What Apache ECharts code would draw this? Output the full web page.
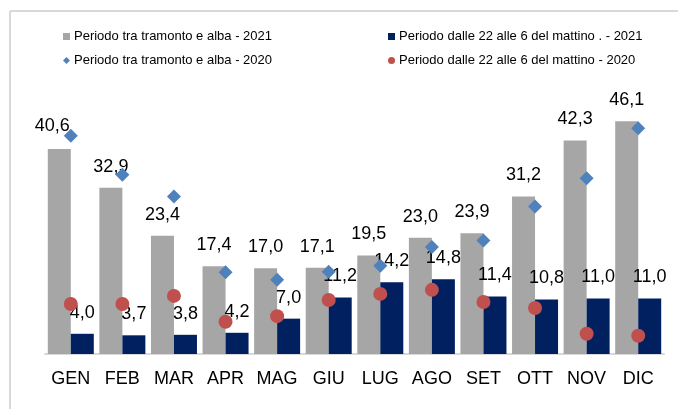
<!DOCTYPE html>
<html>
<head>
<meta charset="utf-8">
<script src="https://cdn.jsdelivr.net/npm/echarts@6/dist/echarts.min.js"></script>
<style>
  html, body { margin: 0; padding: 0; background: #fff; }
  #chart { width: 678px; height: 409px; }
</style>
</head>
<body>
<div id="chart"></div>
<script>
const months = ["GEN", "FEB", "MAR", "APR", "MAG", "GIU", "LUG", "AGO", "SET", "OTT", "NOV", "DIC"];

const tramonto2021 = [40.6, 32.9, 23.4, 17.4, 17.0, 17.1, 19.5, 23.0, 23.9, 31.2, 42.3, 46.1];
const notte2021 = [4.0, 3.7, 3.8, 4.2, 7.0, 11.2, 14.2, 14.8, 11.4, 10.8, 11.0, 11.0];
const tramonto2020 = [43.2, 35.5, 31.2, 16.2, 14.7, 16.3, 17.5, 21.2, 22.5, 29.2, 34.8, 44.7];
const notte2020 = [9.9, 9.9, 11.5, 6.4, 7.5, 10.7, 11.9, 12.7, 10.3, 9.1, 4.0, 3.6];

const NAMES = {
  t21: "Periodo tra tramonto e alba - 2021",
  n21: "Periodo dalle 22 alle 6 del mattino . - 2021",
  t20: "Periodo tra tramonto e alba - 2020",
  n20: "Periodo dalle 22 alle 6 del mattino - 2020",
};

const FONT = "'Liberation Sans', Arial, sans-serif";
const fmt = (v) => v.toFixed(1).replace(".", ",");

const chart = echarts.init(document.getElementById("chart"), null, { renderer: "canvas" });

const barLabel = {
  show: true,
  position: "top",
  distance: 12,
  color: "#000",
  fontFamily: FONT,
  fontSize: 18,
  formatter: (p) => fmt(p.value),
};

const legendBase = {
  orient: "vertical",
  top: 25,
  itemWidth: 7,
  itemHeight: 7,
  itemGap: 11,
  textStyle: { fontFamily: FONT, fontSize: 13, color: "#000", padding: [0, 0, 0, -1] },
};

chart.setOption({
  animation: false,
  graphic: [
    { type: "line", shape: { x1: 10, y1: 11, x2: 678, y2: 11 }, style: { stroke: "#d9d9d9", lineWidth: 2 } },
    { type: "line", shape: { x1: 10, y1: 11, x2: 10, y2: 409 }, style: { stroke: "#d9d9d9", lineWidth: 2 } },
  ],
  legend: [
    { ...legendBase, left: 58, data: [{ name: NAMES.t21, icon: "rect" }, { name: NAMES.t20, icon: "diamond" }] },
    { ...legendBase, left: 383, data: [{ name: NAMES.n21, icon: "rect" }, { name: NAMES.n20, icon: "circle" }] },
  ],
  grid: { left: 45, right: 14, top: 101.5, bottom: 55, containLabel: false },
  xAxis: {
    type: "category",
    data: months,
    axisTick: { show: false },
    axisLine: { lineStyle: { color: "#d9d9d9", width: 2 } },
    axisLabel: { color: "#000", fontFamily: FONT, fontSize: 18, margin: 16, interval: 0 },
  },
  yAxis: {
    type: "value",
    min: 0,
    max: 50,
    show: false,
    splitLine: { show: false },
  },
  series: [
    {
      name: NAMES.t21,
      type: "bar",
      barWidth: 23,
      barGap: "0%",
      itemStyle: { color: "#a6a6a6" },
      label: barLabel,
      data: tramonto2021.map((v, i) => (i === 0 ? { value: v, label: { offset: [-7, -2] } } : v)),
    },
    {
      name: NAMES.n21,
      type: "bar",
      barWidth: 23,
      itemStyle: { color: "#002060" },
      label: barLabel,
      data: notte2021,
    },
    {
      name: NAMES.t20,
      type: "scatter",
      symbol: "diamond",
      symbolSize: 14,
      z: 5,
      itemStyle: { color: "#4f81bd", opacity: 1 },
      data: tramonto2020,
    },
    {
      name: NAMES.n20,
      type: "scatter",
      symbol: "circle",
      symbolSize: 14,
      z: 5,
      itemStyle: { color: "#c0504d", opacity: 1 },
      data: notte2020,
    },
  ],
});
</script>
</body>
</html>
